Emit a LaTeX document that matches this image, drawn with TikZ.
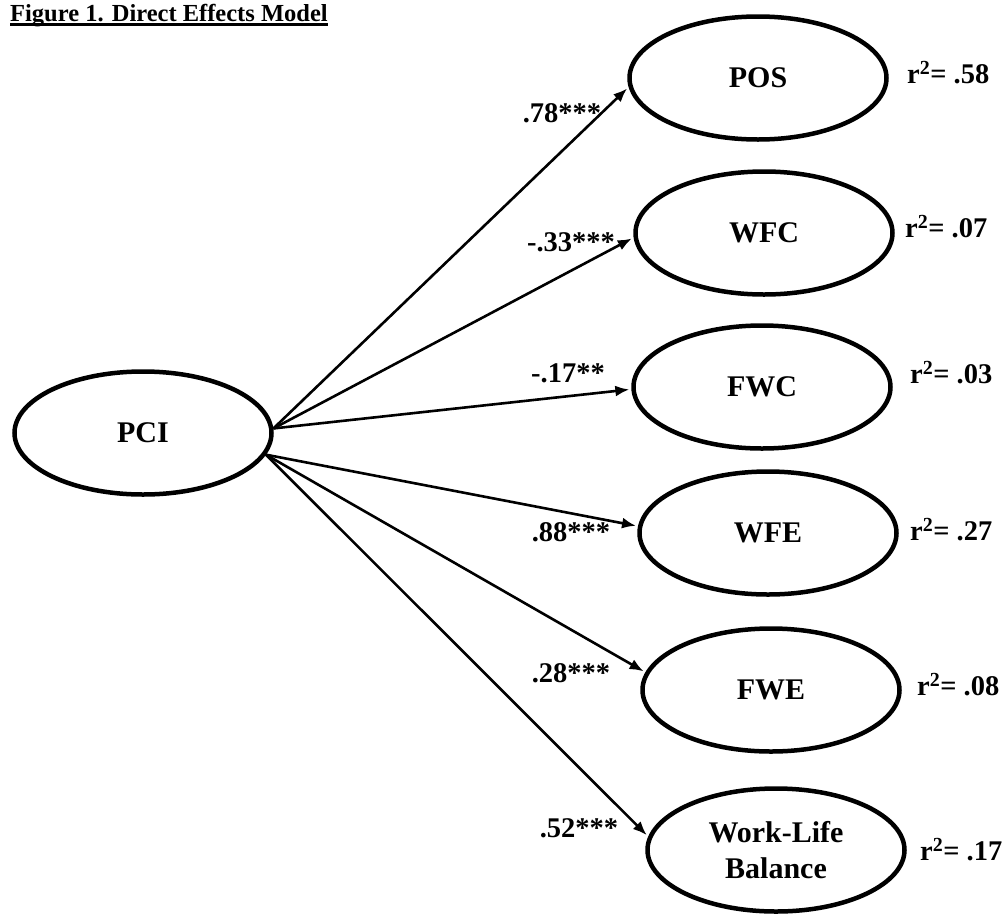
\documentclass[tikz,border=0pt]{standalone}
\usepackage{fontspec}
\setmainfont{Liberation Serif}
\usetikzlibrary{shapes.geometric,arrows.meta}

\begin{document}
\begin{tikzpicture}[x=1pt,y=-1pt,
  latent/.style={ellipse,draw,line width=4.5pt,minimum width=257pt,minimum height=123pt,inner sep=0pt,align=center,font=\fontsize{30}{36}\selectfont\bfseries},
  effect/.style={line width=2.6pt,->,>={Latex[length=14pt,width=11pt]},shorten >=2pt},
  coef/.style={inner sep=0pt,font=\fontsize{28.5}{30}\selectfont\bfseries},
  rsq/.style={coef,anchor=west}]
\useasboundingbox (0,0) rectangle (1007,916);
% title
\node[anchor=base west,inner sep=0pt,font=\fontsize{24.5}{26}\selectfont\bfseries] (title) at (10,21) {Figure 1. Direct Effects Model};
\draw [line width=2.6pt] ([yshift=-3.5pt]title.base west) -- ([yshift=-3.5pt]title.base east);
% latent variables
\node[latent] (PCI) at (143,433) {PCI};
\node[latent] (POS) at (758,78) {POS};
\node[latent] (WFC) at (764,233) {WFC};
\node[latent] (FWC) at (762,387) {FWC};
\node[latent] (WFE) at (768,533) {WFE};
\node[latent] (FWE) at (771,690) {FWE};
\node[latent] (WLB) at (776,850) {Work-Life\\Balance};
% direct effects
\draw [effect] (PCI.2) -- (POS.184);
\draw [effect] (PCI.2) -- (WFC.182);
\draw [effect] (PCI.2) -- (FWC.181);
\draw [effect] (PCI.-10) -- (WFE.177);
\draw [effect] (PCI.-10) -- (FWE.172);
\draw [effect] (PCI.-10) -- (WLB.174);
% coefficients
\node[coef] (bPOS) at (562,113) {.78***};
\node[coef] (bWFC) at (571,242) {-.33***};
\node[coef] (bFWC) at (568,373) {-.17**};
\node[coef] (bWFE) at (571,532) {.88***};
\node[coef] (bFWE) at (571,673) {.28***};
\node[coef] (bWLB) at (579,828) {.52***};
% explained variance
\node[rsq] (rPOS) at (907,73) {r\textsuperscript{2}= .58};
\node[rsq] (rWFC) at (905,227) {r\textsuperscript{2}= .07};
\node[rsq] (rFWC) at (910,373) {r\textsuperscript{2}= .03};
\node[rsq] (rWFE) at (910,530) {r\textsuperscript{2}= .27};
\node[rsq] (rFWE) at (917,685) {r\textsuperscript{2}= .08};
\node[rsq] (rWLB) at (920,850) {r\textsuperscript{2}= .17};
\end{tikzpicture}
\end{document}
